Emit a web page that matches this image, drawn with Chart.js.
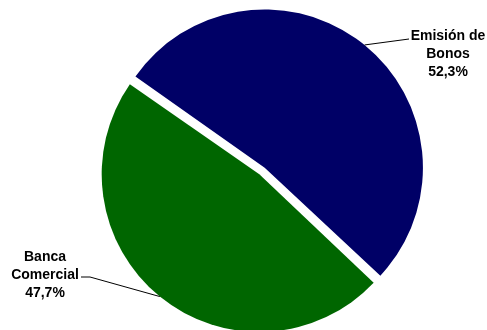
<!DOCTYPE html>
<html>
<head>
<meta charset="utf-8">
<script src="https://cdn.jsdelivr.net/npm/chart.js@4"></script>
<style>
  html, body { margin: 0; padding: 0; background: #fff; overflow: hidden; }
  #wrap { width: 487px; height: 330px; }
</style>
</head>
<body>
<div id="wrap"><canvas id="pie-chart"></canvas></div>
<script>
// datos del gráfico
const categorias = ["Emisión de Bonos", "Banca Comercial"];
const valores = [52.3, 47.7];
const colores = ["#000066", "#006600"];
// etiquetas: líneas de texto por porción
const etiquetas = [["Emisión de", "Bonos", "52,3%"], ["Banca", "Comercial", "47,7%"]];

// posiciones de texto de las etiquetas (x centro, y primera línea, extremo de la línea guía)
const posEtiquetas = [
  { x: 448, y: 36, lineaX: 409, lineaY: 39 },
  { x: 45, y: 257, lineaX: 81, lineaY: 277, codoX: 90 }
];

const etiquetasPlugin = {
  id: 'etiquetas',
  afterDatasetsDraw(chart) {
    const ctx = chart.ctx;
    const arcs = chart.getDatasetMeta(0).data;
    ctx.save();
    arcs.forEach((arc, i) => {
      const p = arc.getProps(['x', 'y', 'startAngle', 'endAngle', 'outerRadius', 'circumference']);
      const mid = (p.startAngle + p.endAngle) / 2;
      const off = (arc.options.offset || 0) / 4;
      const fix = 1 - Math.sin(Math.min(Math.PI, p.circumference));
      const r = p.outerRadius + off * (1 + fix);
      const ax = p.x + Math.cos(mid) * r;
      const ay = p.y + Math.sin(mid) * r;
      const pos = posEtiquetas[i];
      ctx.strokeStyle = '#000';
      ctx.lineWidth = 1;
      ctx.beginPath();
      ctx.moveTo(ax, ay);
      if (pos.codoX !== undefined) {
        ctx.lineTo(pos.codoX, pos.lineaY);
      }
      ctx.lineTo(pos.lineaX, pos.lineaY);
      ctx.stroke();
      ctx.fillStyle = '#000';
      ctx.font = 'bold 14px "Liberation Sans", Arial, sans-serif';
      ctx.textAlign = 'center';
      ctx.textBaseline = 'middle';
      etiquetas[i].forEach((t, j) => {
        ctx.fillText(t, pos.x, pos.y + j * 18);
      });
    });
    ctx.restore();
  }
};

const pie_chart = new Chart(document.getElementById("pie-chart"), {
  type: 'pie',
  data: {
    labels: categorias,
    datasets: [{
      data: valores,
      backgroundColor: colores,
      borderWidth: 0,
      offset: 17
    }]
  },
  options: {
    responsive: true,
    maintainAspectRatio: false,
    animation: false,
    rotation: -55,
    radius: 154,
    layout: { padding: { left: 37, top: 12 } },
    plugins: {
      legend: { display: false },
      tooltip: { enabled: false }
    }
  },
  plugins: [etiquetasPlugin]
});
</script>
</body>
</html>
